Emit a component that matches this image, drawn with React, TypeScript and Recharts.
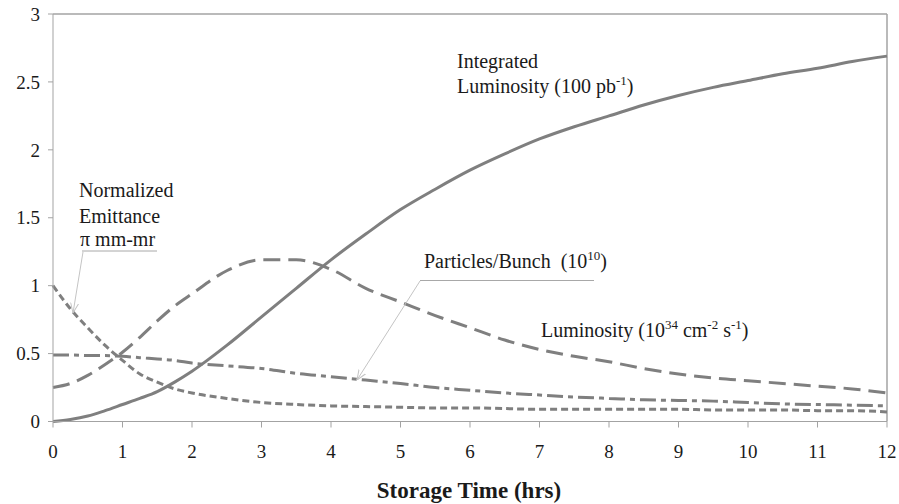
import React from "react";
import { LineChart, Line, XAxis, YAxis, ReferenceLine } from "recharts";

const hours = [0, 0.25, 0.5, 0.75, 1, 1.25, 1.5, 1.75, 2, 2.5, 3, 3.5, 4, 4.5, 5, 5.5, 6, 6.5, 7, 7.5, 8, 8.5, 9, 9.5, 10, 10.5, 11, 11.5, 12];
const integratedLumi = [0, 0.015, 0.04, 0.08, 0.125, 0.17, 0.22, 0.29, 0.37, 0.56, 0.77, 0.98, 1.19, 1.38, 1.56, 1.71, 1.85, 1.97, 2.08, 2.17, 2.25, 2.33, 2.4, 2.46, 2.51, 2.56, 2.6, 2.65, 2.69];
const luminosity = [0.25, 0.28, 0.34, 0.42, 0.51, 0.62, 0.74, 0.85, 0.94, 1.11, 1.19, 1.19, 1.12, 0.98, 0.88, 0.78, 0.69, 0.6, 0.53, 0.48, 0.44, 0.39, 0.35, 0.32, 0.3, 0.28, 0.26, 0.24, 0.21];
const particles = [0.49, 0.49, 0.485, 0.485, 0.48, 0.47, 0.46, 0.45, 0.43, 0.41, 0.39, 0.355, 0.33, 0.305, 0.28, 0.25, 0.23, 0.21, 0.195, 0.18, 0.17, 0.16, 0.155, 0.15, 0.14, 0.13, 0.125, 0.12, 0.115];
const emittance = [1.0, 0.83, 0.69, 0.56, 0.45, 0.35, 0.29, 0.24, 0.21, 0.17, 0.14, 0.125, 0.115, 0.11, 0.105, 0.1, 0.1, 0.095, 0.09, 0.09, 0.09, 0.09, 0.09, 0.085, 0.085, 0.085, 0.08, 0.08, 0.07];
const xTicks = [0, 1, 2, 3, 4, 5, 6, 7, 8, 9, 10, 11, 12];
const yTicks = [0, 0.5, 1, 1.5, 2, 2.5, 3];

const data = hours.map((t, i) => ({
  t,
  integrated: integratedLumi[i],
  lumi: luminosity[i],
  particles: particles[i],
  emit: emittance[i],
}));

const FONT = "Times New Roman, Liberation Serif, DejaVu Serif, serif";
const AXIS = "#a3a3a3";
const LINE = "#7f7f7f";
const TEXT = "#1a1a1a";

export default function App() {
  return (
    <div style={{ position: "absolute", left: 0, top: 0, width: 899, height: 504, background: "#fff", fontFamily: FONT }}>
      <LineChart width={899} height={504} data={data} margin={{ top: 14, right: 12, bottom: 0, left: 0 }} style={{ fontFamily: FONT }}>
        <XAxis
          dataKey="t"
          type="number"
          domain={[0, 12]}
          ticks={xTicks}
          interval={0}
          height={82.5}
          stroke={AXIS}
          tickSize={6}
          tickMargin={17}
          tick={{ fill: TEXT, fontSize: 19, style: { fontFamily: FONT } }}
          tickLine={{ stroke: AXIS }}
        />
        <YAxis
          type="number"
          domain={[0, 3]}
          ticks={yTicks}
          interval={0}
          width={53}
          stroke={AXIS}
          tickSize={5}
          tickMargin={8}
          tick={{ fill: TEXT, fontSize: 19, style: { fontFamily: FONT } }}
          tickLine={{ stroke: AXIS }}
        />
        <ReferenceLine y={3} stroke={AXIS} strokeWidth={1.5} />
        <ReferenceLine x={12} stroke={AXIS} strokeWidth={1.5} />
        <Line dataKey="emit" type="monotone" stroke={LINE} strokeWidth={3} strokeDasharray="7 4" dot={false} isAnimationActive={false} />
        <Line dataKey="particles" type="monotone" stroke={LINE} strokeWidth={3} strokeDasharray="16 5 5 5" dot={false} isAnimationActive={false} />
        <Line dataKey="lumi" type="monotone" stroke={LINE} strokeWidth={3} strokeDasharray="17 8" dot={false} isAnimationActive={false} />
        <Line dataKey="integrated" type="monotone" stroke={LINE} strokeWidth={3} dot={false} isAnimationActive={false} />
      </LineChart>
      <svg
        width={899}
        height={504}
        style={{ position: "absolute", left: 0, top: 0, pointerEvents: "none", fontFamily: FONT }}
        fill={TEXT}
      >
        <defs>
          <marker id="arr" viewBox="0 0 10 10" refX="10" refY="5" markerWidth="10" markerHeight="10" orient="auto" markerUnits="userSpaceOnUse">
            <path d="M0,1 L10,5 L0,9" fill="none" stroke="#c4c4c4" strokeWidth={1} />
          </marker>
        </defs>
        <text x={79} y={197} fontSize={20}>Normalized</text>
        <text x={79} y={223} fontSize={20}>Emittance</text>
        <text x={80} y={246} fontSize={20}>π mm-mr</text>
        <line x1={82} y1={251} x2={157} y2={251} stroke="#a8a8a8" strokeWidth={1} />
        <line x1={83} y1={252} x2={73} y2={313} stroke="#c4c4c4" strokeWidth={1} markerEnd="url(#arr)" />
        <text x={424} y={268} fontSize={20} xmlSpace="preserve">
          Particles/Bunch  (10<tspan fontSize={13} dy={-8}>10</tspan><tspan dy={8}>)</tspan>
        </text>
        <line x1={420} y1={280.5} x2={594} y2={280.5} stroke="#a8a8a8" strokeWidth={1} />
        <line x1={420} y1={281} x2={357} y2={380} stroke="#c4c4c4" strokeWidth={1} markerEnd="url(#arr)" />
        <text x={541} y={337} fontSize={20} xmlSpace="preserve">
          Luminosity (10<tspan fontSize={13} dy={-8}>34</tspan><tspan dy={8}> cm</tspan><tspan fontSize={13} dy={-8}>-2</tspan><tspan dy={8}> s</tspan><tspan fontSize={13} dy={-8}>-1</tspan><tspan dy={8}>)</tspan>
        </text>
        <text x={457} y={68} fontSize={20}>Integrated</text>
        <text x={457} y={93} fontSize={20} xmlSpace="preserve">
          Luminosity (100 pb<tspan fontSize={13} dy={-8}>-1</tspan><tspan dy={8}>)</tspan>
        </text>
        <text x={469} y={498} fontSize={23} fontWeight="bold" textAnchor="middle">Storage Time (hrs)</text>
      </svg>
    </div>
  );
}
